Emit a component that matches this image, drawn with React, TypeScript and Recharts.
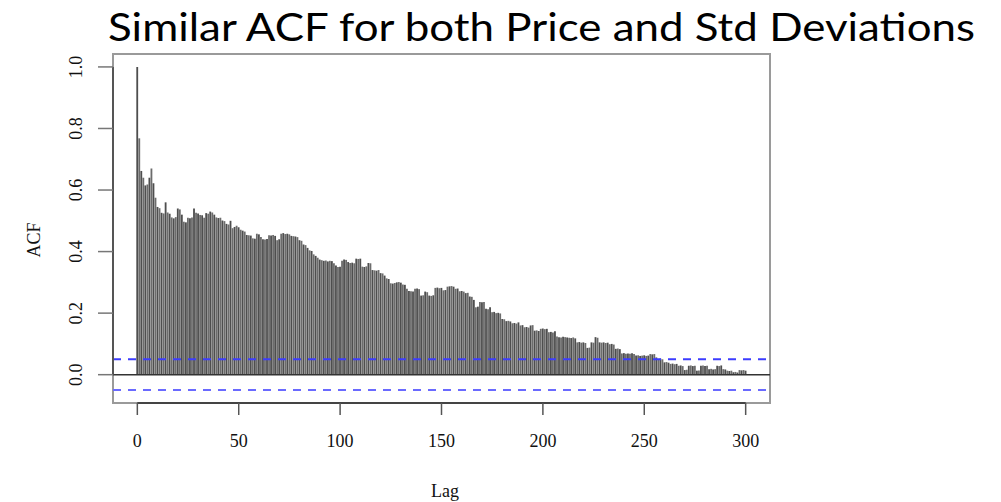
import React from "react";
import {
  ComposedChart,
  Bar,
  Cell,
  XAxis,
  YAxis,
  ReferenceLine,
  ReferenceArea,
} from "recharts";

// Autocorrelation estimates for lags 0..300
const acfValues: number[] = [
  1.0, 0.768, 0.662, 0.64, 0.615, 0.618, 0.64, 0.67, 0.622, 0.575,
  0.545, 0.541, 0.526, 0.524, 0.56, 0.527, 0.523, 0.511, 0.508, 0.512,
  0.54, 0.537, 0.52, 0.497, 0.495, 0.51, 0.508, 0.511, 0.54, 0.526,
  0.524, 0.519, 0.518, 0.51, 0.525, 0.523, 0.53, 0.527, 0.52, 0.511,
  0.509, 0.51, 0.501, 0.499, 0.49, 0.488, 0.5, 0.476, 0.48, 0.484,
  0.479, 0.471, 0.468, 0.465, 0.454, 0.453, 0.452, 0.443, 0.442, 0.458,
  0.456, 0.447, 0.44, 0.439, 0.441, 0.453, 0.452, 0.454, 0.451, 0.437,
  0.44, 0.458, 0.46, 0.457, 0.458, 0.456, 0.451, 0.45, 0.449, 0.447,
  0.437, 0.435, 0.423, 0.421, 0.412, 0.404, 0.402, 0.391, 0.386, 0.38,
  0.374, 0.372, 0.37, 0.371, 0.368, 0.37, 0.369, 0.362, 0.355, 0.35,
  0.351, 0.37, 0.374, 0.373, 0.366, 0.363, 0.364, 0.362, 0.377, 0.376,
  0.377, 0.351, 0.35, 0.352, 0.363, 0.362, 0.34, 0.339, 0.338, 0.34,
  0.33, 0.329, 0.322, 0.313, 0.311, 0.297, 0.296, 0.298, 0.3, 0.301,
  0.299, 0.293, 0.292, 0.279, 0.272, 0.271, 0.27, 0.279, 0.28, 0.278,
  0.257, 0.258, 0.27, 0.268, 0.257, 0.256, 0.258, 0.282, 0.283, 0.281,
  0.282, 0.274, 0.275, 0.286, 0.287, 0.288, 0.286, 0.279, 0.28, 0.271,
  0.272, 0.27, 0.265, 0.266, 0.254, 0.253, 0.243, 0.219, 0.221, 0.236,
  0.235, 0.236, 0.214, 0.213, 0.219, 0.203, 0.204, 0.2, 0.201, 0.199,
  0.181, 0.18, 0.174, 0.175, 0.173, 0.167, 0.168, 0.166, 0.17, 0.16,
  0.161, 0.154, 0.155, 0.153, 0.16, 0.161, 0.143, 0.144, 0.142, 0.149,
  0.15, 0.148, 0.149, 0.138, 0.139, 0.137, 0.141, 0.124, 0.122, 0.121,
  0.123, 0.122, 0.121, 0.12, 0.119, 0.121, 0.118, 0.105, 0.106, 0.104,
  0.105, 0.103, 0.087, 0.088, 0.105, 0.104, 0.122, 0.12, 0.105, 0.104,
  0.105, 0.103, 0.104, 0.099, 0.1, 0.098, 0.084, 0.085, 0.083, 0.069,
  0.07, 0.068, 0.069, 0.068, 0.07, 0.067, 0.062, 0.063, 0.061, 0.062,
  0.063, 0.061, 0.062, 0.067, 0.066, 0.067, 0.056, 0.051, 0.052, 0.05,
  0.04, 0.041, 0.039, 0.035, 0.036, 0.034, 0.035, 0.029, 0.03, 0.028,
  0.015, 0.016, 0.029, 0.03, 0.028, 0.029, 0.013, 0.014, 0.029, 0.03,
  0.028, 0.029, 0.018, 0.019, 0.017, 0.018, 0.029, 0.028, 0.03, 0.018,
  0.017, 0.013, 0.012, 0.013, 0.008, 0.009, 0.007, 0.015, 0.014, 0.015,
  0.013,
];

const lags: number[] = acfValues.map((_, i) => i);

const xTicks = [0, 50, 100, 150, 200, 250, 300];
const yTicks = [0, 0.2, 0.4, 0.6, 0.8, 1.0];
const yTickLabels = ["0.0", "0.2", "0.4", "0.6", "0.8", "1.0"];

// 95% confidence bound
const confBound = 0.05;

const titleText = "Similar ACF for both Price and Std Deviations";
const xLabel = "Lag";
const yLabel = "ACF";

const data = lags.map((lag, i) => ({ lag, acf: acfValues[i] }));

const serif = "'Liberation Serif', 'DejaVu Serif', serif";

const XTick = (props: any) => {
  const { x, y, payload } = props;
  return (
    <text
      x={x}
      y={y + 24}
      textAnchor="middle"
      dominantBaseline="central"
      fontFamily={serif}
      fontSize={18}
      fill="#111"
    >
      {payload.value}
    </text>
  );
};

const YTick = (props: any) => {
  const { x, y, payload } = props;
  const idx = yTicks.findIndex((t) => Math.abs(t - payload.value) < 1e-9);
  const tx = x - 20;
  return (
    <text
      x={tx}
      y={y}
      transform={`rotate(-90 ${tx} ${y})`}
      textAnchor="middle"
      dominantBaseline="central"
      fontFamily={serif}
      fontSize={18}
      fill="#111"
    >
      {idx >= 0 ? yTickLabels[idx] : payload.value}
    </text>
  );
};

export default function App() {
  return (
    <div
      style={{
        position: "absolute",
        left: 0,
        top: 0,
        width: 1001,
        height: 502,
        background: "#fff",
      }}
    >
      <svg
        width={1001}
        height={60}
        style={{ position: "absolute", left: 0, top: 0 }}
      >
        <text
          x={108}
          y={41}
          fontFamily="Lato, 'Open Sans', sans-serif"
          fontSize={38}
          fill="#000"
          textLength={867}
          lengthAdjust="spacingAndGlyphs"
        >
          {titleText}
        </text>
      </svg>
      <div style={{ position: "absolute", left: 0, top: 0 }}>
        <ComposedChart
          width={1001}
          height={502}
          data={data}
          margin={{ top: 54, right: 231, bottom: 0, left: 0 }}
        >
          <XAxis
            dataKey="lag"
            type="number"
            domain={[-12, 312]}
            ticks={xTicks}
            allowDataOverflow
            axisLine={false}
            tickLine={{ stroke: "#555", strokeWidth: 1.5 }}
            tickSize={12}
            tick={<XTick />}
            height={99}
            interval={0}
          />
          <YAxis
            type="number"
            domain={[-0.092, 1.042]}
            ticks={yTicks}
            allowDataOverflow
            axisLine={false}
            tickLine={{ stroke: "#777", strokeWidth: 1.5 }}
            tickSize={15}
            tick={<YTick />}
            width={113}
            interval={0}
          />
          <ReferenceArea
            x1={-12}
            x2={312}
            y1={-0.092}
            y2={1.042}
            fill="none"
            stroke="#9a9a9a"
            strokeWidth={2}
            ifOverflow="visible"
          />
          <Bar dataKey="acf" barSize={2.2} isAnimationActive={false}>
            {data.map((d, i) => (
              <Cell key={d.lag} fill={i % 2 === 0 ? "#4e4e4e" : "#6c6c6c"} />
            ))}
          </Bar>
          <ReferenceLine y={0} stroke="#333" strokeWidth={1.5} />
          <ReferenceLine
            y={confBound}
            stroke="#3c3cff"
            strokeWidth={2}
            strokeDasharray="8 7"
          />
          <ReferenceLine
            y={-confBound}
            stroke="#6a6aff"
            strokeWidth={2}
            strokeDasharray="8 7"
          />
          {/* axis spines spanning only the tick range */}
          <ReferenceLine
            segment={[
              { x: 0, y: -0.092 },
              { x: 300, y: -0.092 },
            ]}
            stroke="#444"
            strokeWidth={2}
            ifOverflow="visible"
          />
          <ReferenceLine
            segment={[
              { x: -12, y: 0 },
              { x: -12, y: 1 },
            ]}
            stroke="#555"
            strokeWidth={2}
            ifOverflow="visible"
          />
        </ComposedChart>
      </div>
      <svg
        width={1001}
        height={502}
        style={{ position: "absolute", left: 0, top: 0, pointerEvents: "none" }}
      >
        <text
          x={445}
          y={491}
          textAnchor="middle"
          dominantBaseline="central"
          fontFamily={serif}
          fontSize={18}
          fill="#111"
        >
          {xLabel}
        </text>
        <text
          x={34}
          y={240}
          transform="rotate(-90 34 240)"
          textAnchor="middle"
          dominantBaseline="central"
          fontFamily={serif}
          fontSize={18}
          fill="#111"
        >
          {yLabel}
        </text>
      </svg>
    </div>
  );
}
